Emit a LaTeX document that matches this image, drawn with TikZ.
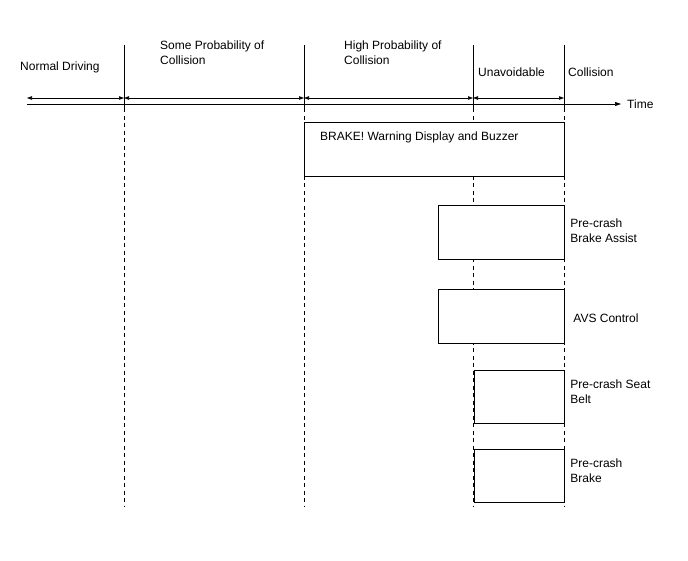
\documentclass[tikz,border=0pt]{standalone}
\usepackage{fontspec}
\setmainfont{Liberation Sans}
\usetikzlibrary{arrows.meta, positioning, calc}

\tikzset{
  phaselbl/.style={anchor=north west, align=left, inner sep=0pt,
                   font=\fontsize{12}{15}\selectfont},
  sidelbl/.style={anchor=west, align=left, inner sep=0pt,
                  font=\fontsize{12}{15}\selectfont},
  actbox/.style={draw, fill=white, line width=1.2pt, anchor=north west, inner sep=0pt},
  gridline/.style={line width=0.6pt},
  spanarrow/.style={line width=0.6pt, {Triangle[length=5pt,width=3.5pt]}-{Triangle[length=5pt,width=3.5pt]}},
}

\begin{document}
\begin{tikzpicture}[x=1pt, y=-1pt]

  \useasboundingbox (0,0) rectangle (688,560);

  %% ─── Phase boundaries ───────────────────────────────────────────────
  \coordinate (t0) at (27, 98);
  \foreach \i/\xp in {1/124, 2/304, 3/473, 4/564} {
    \coordinate (top\i) at (\xp, 45);
    \coordinate (mid\i) at (\xp, 108);
    \coordinate (bot\i) at (\xp, 507);
    \coordinate (t\i) at (\xp, 98);
    \draw[gridline] (top\i) -- (mid\i);
    \draw[gridline, dash pattern=on 4pt off 3.5pt] (mid\i) -- (bot\i);
  }

  %% ─── Time axis ──────────────────────────────────────────────────────
  \coordinate (axstart) at (27, 104);
  \coordinate (axend) at (621, 104);
  \draw[gridline, -{Triangle[length=6pt,width=4pt]}] (axstart) -- (axend);
  \node[sidelbl, right=6pt of axend] (time) {Time};

  \foreach \a/\b in {0/1, 1/2, 2/3, 3/4}
    \draw[spanarrow] (t\a) -- (t\b);

  %% ─── Phase labels ───────────────────────────────────────────────────
  \node[sidelbl] (normal) at (20, 67) {Normal Driving};
  \node[phaselbl] (some) at (160, 41) {Some Probability of\\Collision};
  \node[phaselbl] (high) at (344, 41) {High Probability of\\Collision};
  \node[sidelbl] (unavoid) at (478, 72) {Unavoidable};
  \node[sidelbl] (coll) at (568, 72) {Collision};

  %% ─── Actions ────────────────────────────────────────────────────────
  \node[actbox, minimum width=260pt, minimum height=54pt] (warn) at (304, 122) {};
  \node[sidelbl] (warnlbl) at ($(warn.north west)+(16,15)$)
    {BRAKE! Warning Display and Buzzer};

  \node[actbox, minimum width=126pt, minimum height=54pt] (assist) at (438, 205) {};
  \node[sidelbl, right=5pt of assist, yshift=2pt] (assistlbl) {Pre-crash\\Brake Assist};

  \node[actbox, minimum width=126pt, minimum height=54pt] (avs) at (438, 289) {};
  \node[sidelbl, right=8pt of avs, yshift=-2pt] (avslbl) {AVS Control};

  \node[actbox, minimum width=90pt, minimum height=53pt] (belt) at (474, 370) {};
  \node[sidelbl, right=5pt of belt, yshift=5pt] (beltlbl) {Pre-crash Seat\\Belt};

  \node[actbox, minimum width=90pt, minimum height=53pt] (brake) at (474, 449) {};
  \node[sidelbl, right=5pt of brake, yshift=5pt] (brakelbl) {Pre-crash\\Brake};

\end{tikzpicture}
\end{document}
